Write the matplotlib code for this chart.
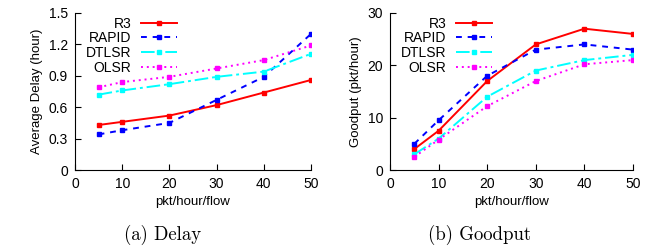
import matplotlib
matplotlib.use("Agg")
import matplotlib.pyplot as plt

# x-värden (pkt/hour/flow)
rate = [5, 10, 20, 30, 40, 50]
protocols = ["R3", "RAPID", "DTLSR", "OLSR"]

# (a) Delay (hour)
delay_r3 = [0.43, 0.46, 0.52, 0.62, 0.74, 0.86]
delay_rapid = [0.34, 0.38, 0.45, 0.67, 0.89, 1.30]
delay_dtlsr = [0.72, 0.76, 0.82, 0.89, 0.94, 1.11]
delay_olsr = [0.79, 0.84, 0.89, 0.97, 1.05, 1.19]

# (b) Goodput (pkt/hour)
good_r3 = [4.0, 7.5, 17.0, 24.0, 27.0, 26.0]
good_rapid = [5.0, 9.5, 18.0, 23.0, 24.0, 23.0]
good_dtlsr = [3.0, 6.0, 14.0, 19.0, 21.0, 22.0]
good_olsr = [2.5, 5.8, 12.2, 17.0, 20.2, 21.0]

styles = {
    "R3": dict(color="#ff0000", linestyle="-", linewidth=1.4),
    "RAPID": dict(color="#0000ff", linestyle=(0, (3, 3)), linewidth=1.4),
    "DTLSR": dict(color="#00ffff", linestyle=(0, (7, 2, 1.5, 2)), linewidth=1.4),
    "OLSR": dict(color="#ff00ff", linestyle=(0, (1, 2)), linewidth=1.4),
}

plt.rcParams["font.family"] = ["Liberation Sans", "DejaVu Sans"]
plt.rcParams["font.size"] = 10

fig = plt.figure(figsize=(6.49, 2.48), dpi=100)
ax1 = fig.add_axes([75 / 649, 1 - 170 / 248, 236 / 649, 157 / 248])
ax2 = fig.add_axes([390 / 649, 1 - 170 / 248, 243 / 649, 157 / 248])


def draw(ax, series, ylim, yticks, ylabel, yfmt):
    for name, vals in zip(protocols, series):
        ax.plot(rate, vals, label=name, marker="s", markersize=3.2, **styles[name])
    ax.set_xlim(0, 50)
    ax.set_ylim(*ylim)
    ax.set_xticks([0, 10, 20, 30, 40, 50])
    ax.set_yticks(yticks)
    ax.set_yticklabels([yfmt(v) for v in yticks])
    ax.set_xlabel("pkt/hour/flow", fontsize=9.5, labelpad=4)
    ax.set_ylabel(ylabel, fontsize=9.5, labelpad=4)
    for s in ["top", "right"]:
        ax.spines[s].set_visible(False)
    ax.tick_params(direction="in", length=4, width=0.8, pad=5)
    ax.legend(loc="upper left", bbox_to_anchor=(0.01, 1.03), frameon=False,
              markerfirst=False, handlelength=2.6, handletextpad=0.7,
              labelspacing=0.05, borderpad=0.1, fontsize=10)


draw(ax1, [delay_r3, delay_rapid, delay_dtlsr, delay_olsr], (0, 1.5),
     [0, 0.3, 0.6, 0.9, 1.2, 1.5], "Average Delay (hour)",
     lambda v: "0" if v == 0 else f"{v:.1f}")
draw(ax2, [good_r3, good_rapid, good_dtlsr, good_olsr], (0, 30),
     [0, 10, 20, 30], "Goodput (pkt/hour)", lambda v: f"{v:.0f}")

fig.text(163 / 649, 1 - 235 / 248, "(a) Delay", family=["cmr10", "DejaVu Serif"],
         fontsize=13.5, ha="center", va="center")
fig.text(480 / 649, 1 - 235 / 248, "(b) Goodput", family=["cmr10", "DejaVu Serif"],
         fontsize=13.5, ha="center", va="center")

fig.savefig("out.png", dpi=100)
